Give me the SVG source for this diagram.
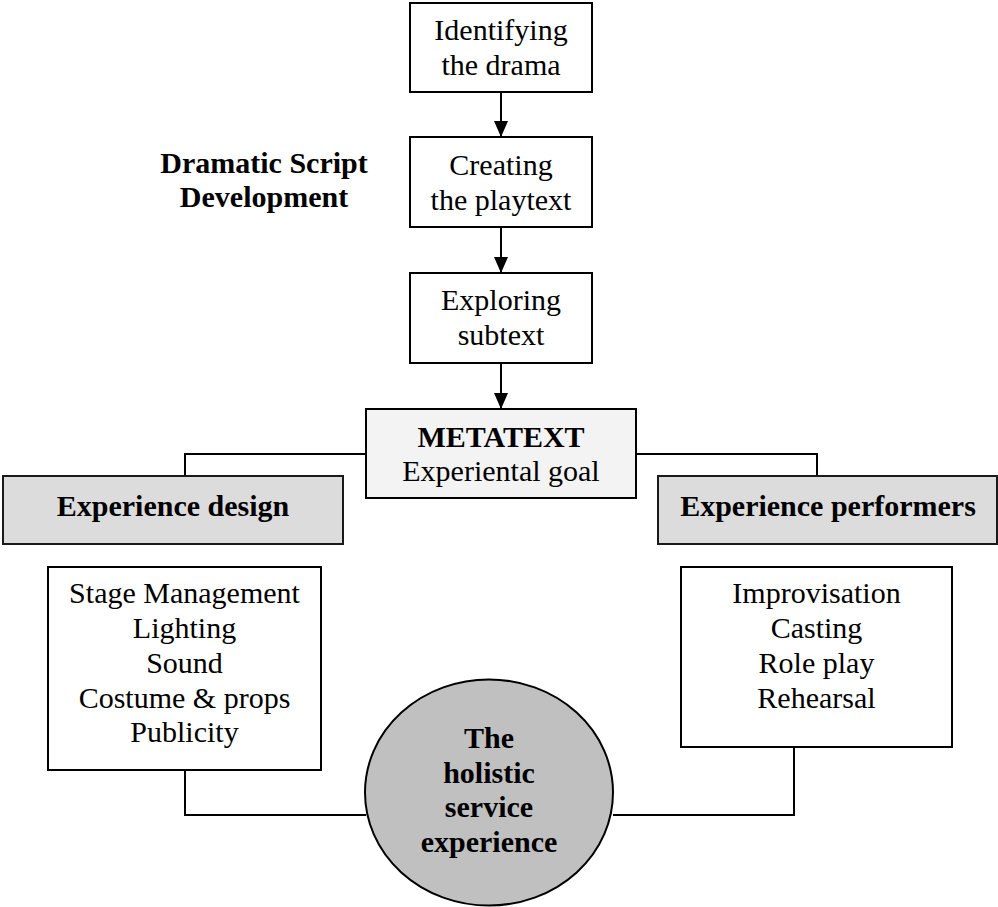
<svg xmlns="http://www.w3.org/2000/svg" width="998" height="907" viewBox="0 0 998 907">
  <defs>
    <marker id="arrow" viewBox="0 0 16 14" refX="16" refY="7" markerWidth="16" markerHeight="14" markerUnits="userSpaceOnUse" orient="auto">
      <path d="M0,0 L16,7 L0,14 Z" fill="#000"/>
    </marker>
    <style>
      .box { fill: #ffffff; stroke: #000; stroke-width: 2; }
      .meta { fill: #f3f3f3; stroke: #000; stroke-width: 2; }
      .head { fill: #dcdcdc; stroke: #1a1a1a; stroke-width: 2; }
      .hub { fill: #c0c0c0; stroke: #000; stroke-width: 2; }
      .wire { fill: none; stroke: #000; stroke-width: 2; }
      text { font-family: "Liberation Serif", "Times New Roman", serif; font-size: 30px; fill: #000; text-anchor: middle; }
      .b { font-weight: bold; }
    </style>
  </defs>
  <rect width="998" height="907" fill="#ffffff"/>

  <!-- connectors -->
  <g id="connectors">
    <line class="wire" x1="501" y1="92" x2="501" y2="137" marker-end="url(#arrow)"/>
    <line class="wire" x1="501" y1="227" x2="501" y2="273" marker-end="url(#arrow)"/>
    <line class="wire" x1="501" y1="363" x2="501" y2="409" marker-end="url(#arrow)"/>
    <polyline class="wire" points="366,454 185,454 185,476"/>
    <polyline class="wire" points="636,454 817,454 817,476"/>
    <polyline class="wire" points="185,770 185,815 366,815"/>
    <polyline class="wire" points="794,747 794,815 613,815"/>
  </g>

  <g id="label-dramatic-script">
    <text class="b" x="264" y="173">Dramatic Script</text>
    <text class="b" x="264" y="207">Development</text>
  </g>

  <g id="identifying">
    <rect class="box" x="410" y="3" width="182" height="89"/>
    <text x="501" y="40">Identifying</text>
    <text x="501" y="75">the drama</text>
  </g>

  <g id="creating">
    <rect class="box" x="410" y="137" width="182" height="90"/>
    <text x="501" y="175">Creating</text>
    <text x="501" y="210">the playtext</text>
  </g>

  <g id="exploring">
    <rect class="box" x="410" y="273" width="182" height="90"/>
    <text x="501" y="310">Exploring</text>
    <text x="501" y="345">subtext</text>
  </g>

  <g id="metatext">
    <rect class="meta" x="366" y="409" width="270" height="89"/>
    <text class="b" x="501" y="447">METATEXT</text>
    <text x="501" y="481">Experiental goal</text>
  </g>

  <g id="experience-design">
    <rect class="head" x="3" y="476" width="340" height="68"/>
    <text class="b" x="173" y="516">Experience design</text>
  </g>

  <g id="experience-performers">
    <rect class="head" x="658" y="476" width="339" height="68"/>
    <text class="b" x="828" y="516">Experience performers</text>
  </g>

  <g id="design-elements">
    <rect class="box" x="48" y="567" width="273" height="203"/>
    <text x="184.5" y="603">Stage Management</text>
    <text x="184.5" y="638">Lighting</text>
    <text x="184.5" y="673">Sound</text>
    <text x="184.5" y="708">Costume &amp; props</text>
    <text x="184.5" y="742">Publicity</text>
  </g>

  <g id="performer-elements">
    <rect class="box" x="681" y="567" width="271" height="180"/>
    <text x="816.5" y="603">Improvisation</text>
    <text x="816.5" y="638">Casting</text>
    <text x="816.5" y="673">Role play</text>
    <text x="816.5" y="708">Rehearsal</text>
  </g>

  <g id="holistic-experience">
    <ellipse class="hub" cx="489" cy="792.5" rx="124" ry="113"/>
    <text class="b" x="489" y="748">The</text>
    <text class="b" x="489" y="783">holistic</text>
    <text class="b" x="489" y="817">service</text>
    <text class="b" x="489" y="852">experience</text>
  </g>
</svg>
